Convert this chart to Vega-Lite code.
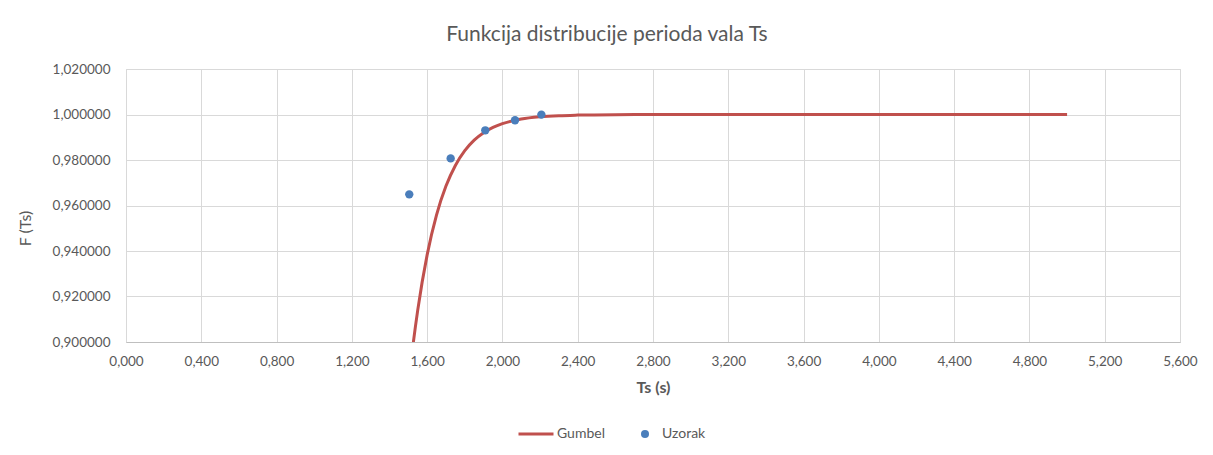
{
  "$schema": "https://vega.github.io/schema/vega-lite/v6.json",
  "width": 1054,
  "height": 273,
  "autosize": {"type": "none"},
  "padding": {"left": 126, "top": 69, "right": 33, "bottom": 113},
  "background": "white",
  "title": {
    "text": "Funkcija distribucije perioda vala Ts",
    "font": "Lato",
    "fontSize": 21,
    "fontWeight": "normal",
    "color": "#595959",
    "anchor": "middle",
    "dx": -46,
    "offset": 17
  },
  "config": {
    "view": {"stroke": "#D9D9D9", "strokeWidth": 1},
    "font": "Lato",
    "axis": {
      "labelFont": "Lato",
      "labelFontSize": 13.5,
      "labelColor": "#595959",
      "labelFlush": false,
      "titleFont": "Lato",
      "titleColor": "#595959",
      "gridColor": "#D9D9D9",
      "gridWidth": 1,
      "ticks": false,
      "domain": false
    },
    "legend": {"labelFont": "Lato", "labelFontSize": 14, "labelColor": "#595959"}
  },
  "datasets": {
    "gumbel": [
      {"Ts": 1.45, "F": 0.8359, "series": "Gumbel"},
      {"Ts": 1.5, "F": 0.8808, "series": "Gumbel"},
      {"Ts": 1.525, "F": 0.8987, "series": "Gumbel"},
      {"Ts": 1.55, "F": 0.91401, "series": "Gumbel"},
      {"Ts": 1.6, "F": 0.9383, "series": "Gumbel"},
      {"Ts": 1.65, "F": 0.95588, "series": "Gumbel"},
      {"Ts": 1.7, "F": 0.96854, "series": "Gumbel"},
      {"Ts": 1.75, "F": 0.97761, "series": "Gumbel"},
      {"Ts": 1.8, "F": 0.98409, "series": "Gumbel"},
      {"Ts": 1.85, "F": 0.9887, "series": "Gumbel"},
      {"Ts": 1.9, "F": 0.99198, "series": "Gumbel"},
      {"Ts": 1.95, "F": 0.99431, "series": "Gumbel"},
      {"Ts": 2.0, "F": 0.99597, "series": "Gumbel"},
      {"Ts": 2.1, "F": 0.99798, "series": "Gumbel"},
      {"Ts": 2.2, "F": 0.99898, "series": "Gumbel"},
      {"Ts": 2.3, "F": 0.99949, "series": "Gumbel"},
      {"Ts": 2.4, "F": 0.99974, "series": "Gumbel"},
      {"Ts": 2.6, "F": 0.99994, "series": "Gumbel"},
      {"Ts": 2.8, "F": 0.99998, "series": "Gumbel"},
      {"Ts": 3.0, "F": 1.0, "series": "Gumbel"},
      {"Ts": 3.5, "F": 1.0, "series": "Gumbel"},
      {"Ts": 4.0, "F": 1.0, "series": "Gumbel"},
      {"Ts": 4.5, "F": 1.0, "series": "Gumbel"},
      {"Ts": 5.0, "F": 1.0, "series": "Gumbel"}
    ],
    "uzorak": [
      {"Ts": 1.505, "F": 0.9649, "series": "Uzorak"},
      {"Ts": 1.725, "F": 0.9807, "series": "Uzorak"},
      {"Ts": 1.909, "F": 0.99305, "series": "Uzorak"},
      {"Ts": 2.067, "F": 0.99745, "series": "Uzorak"},
      {"Ts": 2.207, "F": 0.99995, "series": "Uzorak"}
    ]
  },
  "layer": [
    {
      "data": {"name": "gumbel"},
      "mark": {"type": "line", "strokeWidth": 3, "interpolate": "monotone", "clip": true},
      "encoding": {
        "x": {
          "field": "Ts", "type": "quantitative",
          "scale": {"domain": [0, 5.6], "nice": false, "zero": false},
          "axis": {
            "values": [0, 0.4, 0.8, 1.2, 1.6, 2.0, 2.4, 2.8, 3.2, 3.6, 4.0, 4.4, 4.8, 5.2, 5.6],
            "format": ".3f",
            "labelExpr": "replace(datum.label, '.', ',')",
            "labelPadding": 12,
            "title": "Ts (s)",
            "titleFontSize": 16,
            "titleFontWeight": "bold",
            "titlePadding": 12,
            "domain": true,
            "domainColor": "#BFBFBF"
          }
        },
        "y": {
          "field": "F", "type": "quantitative",
          "scale": {"domain": [0.9, 1.02], "nice": false, "zero": false},
          "axis": {
            "values": [0.9, 0.92, 0.94, 0.96, 0.98, 1.0, 1.02],
            "format": ".6f",
            "labelExpr": "replace(datum.label, '.', ',')",
            "labelPadding": 16,
            "title": "F (Ts)",
            "titleFontSize": 16,
            "titleFontWeight": "normal",
            "titleX": -93,
            "titleY": 159,
            "titleAngle": -90
          }
        },
        "stroke": {
          "field": "series", "type": "nominal",
          "scale": {"domain": ["Gumbel"], "range": ["#C0504D"]},
          "legend": {
            "title": null,
            "orient": "none",
            "legendX": 391,
            "legendY": 346,
            "symbolType": "stroke",
            "symbolSize": 1225,
            "symbolStrokeWidth": 3,
            "labelOffset": 2
          }
        }
      }
    },
    {
      "data": {"name": "uzorak"},
      "mark": {"type": "point", "filled": true, "opacity": 1, "size": 70},
      "encoding": {
        "x": {"field": "Ts", "type": "quantitative"},
        "y": {"field": "F", "type": "quantitative"},
        "fill": {
          "field": "series", "type": "nominal",
          "scale": {"domain": ["Uzorak"], "range": ["#4A7EBB"]},
          "legend": {
            "title": null,
            "orient": "none",
            "legendX": 512,
            "legendY": 358,
            "symbolType": "circle",
            "symbolSize": 64,
            "symbolOpacity": 1,
            "labelOffset": 10
          }
        }
      }
    }
  ]
}
